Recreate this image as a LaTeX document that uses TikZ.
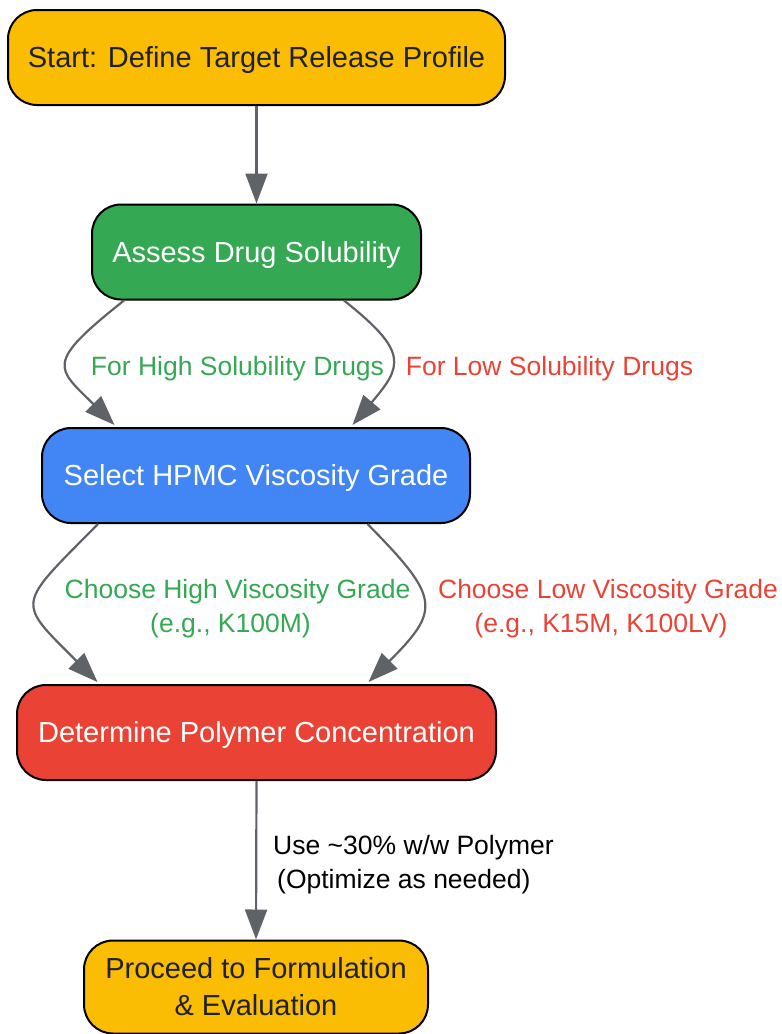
\documentclass[tikz,border=0pt]{standalone}
\usepackage{fontspec}
\setmainfont{Liberation Sans}
\usetikzlibrary{arrows.meta}
\definecolor{cOrange}{HTML}{FBBC04}
\definecolor{cGreen}{HTML}{34A853}
\definecolor{cBlue}{HTML}{4285F4}
\definecolor{cRed}{HTML}{EA4335}
\definecolor{cDark}{HTML}{202124}
\definecolor{cArrow}{HTML}{5F6368}
\begin{document}
\begin{tikzpicture}[x=1pt,y=-1pt,
  flowbox/.style={draw=black, line width=2pt, rounded corners=29pt, inner sep=0pt,
    align=center, font=\fontsize{29}{36.5}\selectfont, minimum height=95pt,
    text height=26.25pt, text depth=6.15pt},
  conn/.style={draw=cArrow, line width=2.2pt, -{Triangle[length=30pt,width=22pt]}},
  elabel/.style={font=\fontsize{26.5}{34}\selectfont, align=center, inner sep=0pt}]
\useasboundingbox (0,0) rectangle (782,1034);
\node[flowbox, fill=cOrange, text=cDark, minimum width=497pt] (start) at (256.5,57.5) {Start: Define Target Release Profile};
\node[flowbox, fill=cGreen, text=white, minimum width=329pt] (assess) at (256.5,252) {Assess Drug Solubility};
\node[flowbox, fill=cBlue, text=white, minimum width=428pt] (select) at (256,475.5) {Select HPMC Viscosity Grade};
\node[flowbox, fill=cRed, text=white, minimum width=479pt] (determine) at (256.5,732.5) {Determine Polymer Concentration};
\node[flowbox, fill=cOrange, text=cDark, minimum width=344pt, minimum height=93pt, text height=62.75pt, text depth=6.15pt] (proceed) at (256,987) {Proceed to Formulation\\\& Evaluation};

\draw[conn] (start.south) -- (assess.north);
\draw[conn] ([xshift=-132.5pt]assess.south) .. controls (44,364) and (56.3,367.3) .. ([xshift=-141.5pt,yshift=2pt]select.north);
\draw[conn] ([xshift=87.5pt]assess.south) .. controls (409,352) and (402.5,366) .. ([xshift=96.5pt,yshift=2pt]select.north);
\draw[conn] ([xshift=-158pt]select.south) .. controls (16,607) and (15.5,600) .. ([xshift=-159pt,yshift=2pt]determine.north);
\draw[conn] ([xshift=111.5pt]select.south) .. controls (440,597.5) and (441,609.5) .. ([xshift=112pt,yshift=2pt]determine.north);
\draw[conn] (determine.south) -- (proceed.north);

\node[elabel, text=cGreen] (lhs) at (237.5,369) {For High Solubility Drugs};
\node[elabel, text=cRed] (lls) at (549.5,369) {For Low Solubility Drugs};
\node[elabel, text=cGreen] (lhv) at (237.5,608.5) {Choose High Viscosity Grade\\(e.g., K100M)\hspace*{14pt}};
\node[elabel, text=cRed] (llv) at (608,608.5) {Choose Low Viscosity Grade\\(e.g., K15M, K100LV)\hspace*{14pt}};
\node[elabel, text=black, align=left, anchor=west] (lpoly) at (273,864.5) {Use \textasciitilde30\% w/w Polymer\\\hspace*{4pt}(Optimize as needed)};
\end{tikzpicture}
\end{document}
